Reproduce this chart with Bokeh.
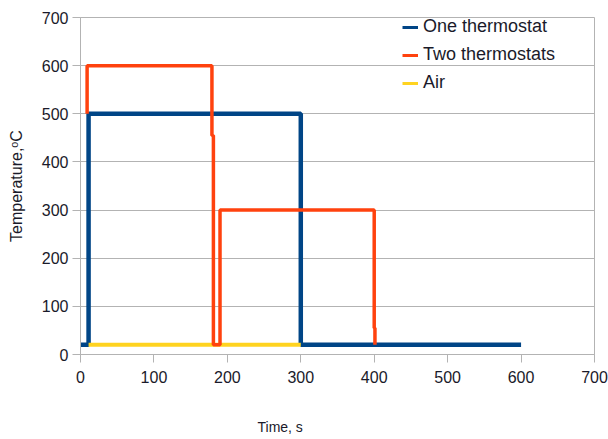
from bokeh.plotting import figure
from bokeh.models import Range1d, FixedTicker, Legend, LegendItem, Title
from bokeh.embed import file_html
from bokeh.resources import INLINE

# data
one_t = [0, 11, 11, 300, 300, 600]
one_v = [20, 20, 500, 500, 20, 20]
two_t = [9, 9, 179, 179, 181, 181, 190, 190, 400, 400, 401, 401]
two_v = [500, 600, 600, 455, 455, 20, 20, 300, 300, 55, 55, 20]
air_t = [11, 300]
air_v = [20, 20]
x_ticks = [0, 100, 200, 300, 400, 500, 600, 700]
y_ticks = [0, 100, 200, 300, 400, 500, 600, 700]
series_names = ["One thermostat", "Two thermostats", "Air"]
series_colors = ["#004586", "#ff420e", "#ffd320"]

FONT = "Liberation Sans"
GRID = "#b3b3b3"

p = figure(width=608, height=439, output_backend="svg", toolbar_location=None,
           x_range=Range1d(0, 700), y_range=Range1d(0, 700),
           min_border_left=80, min_border_right=14, min_border_top=17, min_border_bottom=84)

p.outline_line_color = GRID
p.xgrid.visible = False
p.ygrid.grid_line_color = GRID
p.ygrid.ticker = FixedTicker(ticks=y_ticks)

for ax, ticks in ((p.xaxis[0], x_ticks), (p.yaxis[0], y_ticks)):
    ax.ticker = FixedTicker(ticks=ticks)
    ax.axis_line_color = GRID
    ax.major_tick_line_color = GRID
    ax.major_tick_out = 8
    ax.major_tick_in = 0
    ax.minor_tick_line_color = None
    ax.major_label_text_font = FONT
    ax.major_label_text_font_size = "16px"
    ax.major_label_text_color = "#1a1a2a"

p.xaxis.major_label_standoff = 8
p.xaxis.axis_label = "\u00a0"
p.xaxis.axis_label_text_font_size = "14px"
p.xaxis.axis_label_standoff = 8
p.yaxis.major_label_standoff = 4
p.yaxis.axis_label = "Temperature,ᵒC"
p.yaxis.axis_label_text_font = FONT
p.yaxis.axis_label_text_font_size = "16px"
p.yaxis.axis_label_text_font_style = "normal"
p.yaxis.axis_label_text_color = "#1a1a2a"
p.yaxis.axis_label_standoff = 14

xt = Title(text="Time, s", align="left", offset=177, standoff=9, text_font=FONT,
           text_font_size="14px", text_font_style="normal", text_color="#1a1a2a")
p.add_layout(xt, "below")

r_one = p.line(one_t, one_v, line_color=series_colors[0], line_width=4.5)
r_air = p.line(air_t, air_v, line_color=series_colors[2], line_width=4)
r_two = p.line(two_t, two_v, line_color=series_colors[1], line_width=3.5)

# thinner legend keys (single-point lines draw nothing on the plot)
key_src = [(one_t, one_v), (two_t, two_v), (air_t, air_v)]
keys = [p.line(t[:1], v[:1], line_color=c, line_width=3)
        for (t, v), c in zip(key_src, series_colors)]

legend = Legend(items=[LegendItem(label=n, renderers=[k]) for n, k in zip(series_names, keys)],
                location=(322, 261), orientation="vertical")
legend.border_line_color = None
legend.background_fill_alpha = 0
legend.padding = 0
legend.margin = 0
legend.spacing = 7
legend.label_height = 20
legend.glyph_height = 20
legend.glyph_width = 16
legend.label_standoff = 5
legend.label_text_font = FONT
legend.label_text_font_size = "18px"
legend.label_text_color = "#1a1a2a"
p.add_layout(legend, "center")

open("out.html", "w").write(file_html(p, INLINE))
